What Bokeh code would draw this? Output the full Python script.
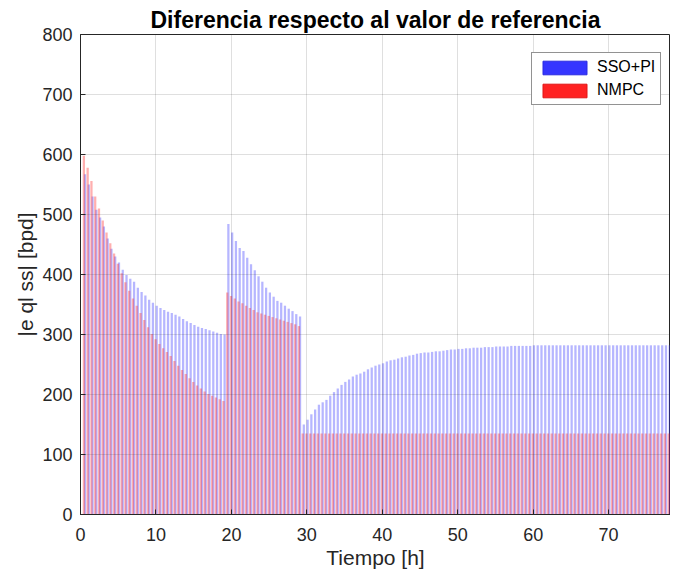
import numpy as np
from bokeh.plotting import figure
from bokeh.models import ColumnDataSource, FixedTicker, Legend, LegendItem, Range1d
from bokeh.embed import file_html
from bokeh.resources import INLINE

# Sample times [h], one group every 0.5 h
t_step = 0.5
# SSO+PI |e| values [bpd]
sso_a = [567, 550, 530, 508, 495, 480, 460, 443, 430, 420,
         408, 399, 393, 388, 378, 371, 365, 358, 353, 348,
         344, 341, 338, 336, 333, 330, 326, 322, 319, 316,
         313, 311, 309, 307, 305, 303, 301, 300]
sso_b = [484, 470, 456, 444, 439, 428, 417, 407, 397, 388,
         378, 370, 363, 356, 353, 348, 343, 339, 334, 330]
sso_c = [150, 158, 167, 175, 183, 187, 191, 198, 204, 210,
         216, 221, 225, 230, 233, 235, 238, 242, 245, 248,
         250, 252, 255, 257, 258, 260, 262, 263, 265, 266,
         268, 269, 270, 270, 271, 272, 272, 273, 274, 275,
         275, 276, 276, 277, 277, 278, 278, 278, 279, 279,
         279, 280, 280, 280, 280, 281, 281, 281, 281, 281,
         281, 282, 282, 282, 282, 282, 282, 282, 282, 282,
         282, 282, 282, 282, 282, 282, 282, 282, 282, 282,
         282, 282, 282, 282, 282, 282, 282, 282, 282, 282,
         282, 282, 282, 282, 282, 282, 282, 282, 282]
# NMPC |e| values [bpd]
nmpc_a = [598, 578, 556, 530, 510, 490, 470, 452, 435, 418,
          402, 387, 373, 360, 348, 336, 324, 312, 301, 292,
          284, 277, 271, 264, 256, 248, 241, 234, 227, 221,
          215, 210, 205, 201, 198, 195, 192, 189]
nmpc_b = [370, 364, 360, 355, 352, 348, 344, 341, 337, 335,
          333, 331, 329, 327, 325, 323, 321, 319, 317, 314]
nmpc_c = [135, 135, 135, 135, 135, 135, 135, 135, 135, 135,
          135, 135, 135, 135, 135, 135, 135, 135, 135, 135,
          135, 135, 135, 135, 135, 135, 135, 135, 135, 135,
          135, 135, 135, 135, 135, 135, 135, 135, 135, 135,
          135, 135, 135, 135, 135, 135, 135, 135, 135, 135,
          135, 135, 135, 135, 135, 135, 135, 135, 135, 135,
          135, 135, 135, 135, 135, 135, 135, 135, 135, 135,
          135, 135, 135, 135, 135, 135, 135, 135, 135, 135,
          135, 135, 135, 135, 135, 135, 135, 135, 135, 135,
          135, 135, 135, 135, 135, 135, 135, 135, 135]

x_ticks = [0, 10, 20, 30, 40, 50, 60, 70]
y_ticks = [0, 100, 200, 300, 400, 500, 600, 700, 800]

sso = sso_a + sso_b + sso_c
nmpc = nmpc_a + nmpc_b + nmpc_c
t = (np.arange(len(sso)) + 1) * t_step

BLUE = "#3535ff"
RED = "#ff2222"
FONT = "Liberation Sans"
AX = "#262626"

p = figure(width=670, height=572, output_backend="svg", toolbar_location=None,
           x_range=Range1d(0, 78.2), y_range=Range1d(0, 800),
           min_border_left=80, min_border_right=0, min_border_top=34, min_border_bottom=58)

src = ColumnDataSource(dict(xs=t + 0.1, xr=t - 0.05, sso=sso, nmpc=nmpc))
p.vbar(x="xs", top="sso", width=0.3, source=src, fill_color=BLUE, fill_alpha=0.36,
       line_color=None)
p.vbar(x="xr", top="nmpc", width=0.3, source=src, fill_color=RED, fill_alpha=0.36,
       line_color=None)

# legend proxies (solid colours), drawn outside the visible range
proxy = ColumnDataSource(dict(x=[-100], top=[0]))
r1 = p.vbar(x="x", top="top", width=0.3, source=proxy, fill_color=BLUE, line_color="#2a2ae0")
r2 = p.vbar(x="x", top="top", width=0.3, source=proxy, fill_color=RED, line_color="#e01515")
legend = Legend(items=[LegendItem(label="SSO+PI", renderers=[r1]),
                       LegendItem(label="NMPC", renderers=[r2])],
                location=(451, 409), border_line_color="#262626", border_line_width=1,
                background_fill_color="white", background_fill_alpha=1,
                label_text_font=FONT, label_text_font_size="16px", label_text_color="black",
                glyph_width=55, glyph_height=17, spacing=5, padding=5, margin=0,
                label_standoff=5)
p.add_layout(legend)

p.title.text = "Diferencia respecto al valor de referencia"
p.title.align = "center"
p.title.text_font = FONT
p.title.text_font_size = "23px"
p.title.text_font_style = "bold"
p.title.text_color = "black"
p.title.standoff = 4

p.xaxis.ticker = FixedTicker(ticks=x_ticks)
p.yaxis.ticker = FixedTicker(ticks=y_ticks)
for ax in (p.xaxis, p.yaxis):
    ax.axis_line_color = AX
    ax.major_tick_line_color = AX
    ax.major_tick_in = 5
    ax.major_tick_out = 0
    ax.minor_tick_line_color = None
    ax.major_label_text_font = FONT
    ax.major_label_text_font_size = "18px"
    ax.major_label_text_color = AX
    ax.axis_label_text_font = FONT
    ax.axis_label_text_font_size = "21px"
    ax.axis_label_text_font_style = "normal"
    ax.axis_label_text_color = AX
p.xaxis.axis_label = "Tiempo [h]"
p.yaxis.axis_label = "|e ql ss| [bpd]"
p.yaxis.major_label_standoff = 8
p.xaxis.major_label_standoff = 13
p.yaxis.axis_label_standoff = 2
p.xaxis.axis_label_standoff = 2

for g in (p.xgrid, p.ygrid):
    g.grid_line_color = AX
    g.grid_line_alpha = 0.15
    g.level = "overlay"

p.outline_line_color = AX
p.outline_line_alpha = 1
p.background_fill_color = "white"
p.border_fill_color = "white"

open("out.html", "w").write(file_html(p, INLINE))
